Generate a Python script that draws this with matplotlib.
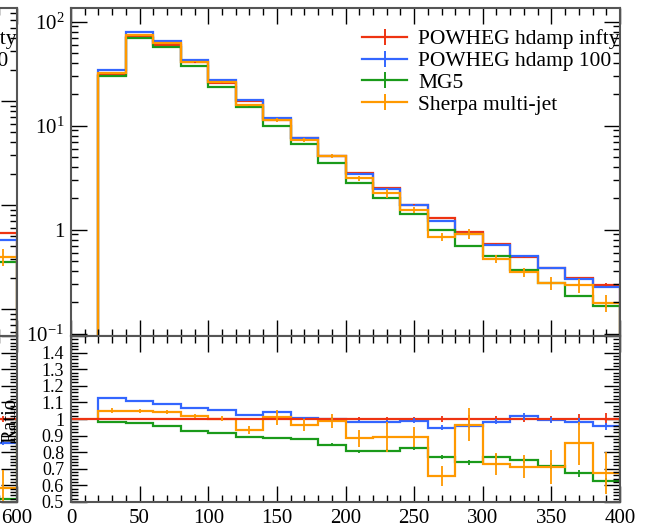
import numpy as np
import matplotlib
matplotlib.use("Agg")
import matplotlib.pyplot as plt
from matplotlib.ticker import MultipleLocator, LogLocator, FuncFormatter, NullFormatter
from matplotlib.lines import Line2D

plt.rcParams["font.family"] = ["Liberation Serif", "DejaVu Serif"]
plt.rcParams["mathtext.fontset"] = "custom"
plt.rcParams["mathtext.rm"] = "Liberation Serif"
plt.rcParams["mathtext.it"] = "Liberation Serif:italic"

labels = ["POWHEG hdamp infty", "POWHEG hdamp 100", "MG5", "Sherpa multi-jet"]
colours = ["#EE3311", "#3366FF", "#1A9A1A", "#FF9900"]

# jet pT bins (GeV)
bin_edges = [20, 40, 60, 80, 100, 120, 140, 160, 180, 200, 220,
             240, 260, 280, 300, 320, 340, 360, 380, 400]

# reference prediction (POWHEG hdamp infty)
ref_vals = [30.7, 72.0, 60.1, 40.6, 26.0, 17.1, 11.3, 7.55, 5.15, 3.52,
            2.50, 1.73, 1.29, 0.944, 0.724, 0.548, 0.431, 0.343, 0.294]
ref_err = [0.004, 0.004, 0.004, 0.005, 0.005, 0.006, 0.007, 0.008, 0.010, 0.012,
           0.014, 0.015, 0.016, 0.025, 0.018, 0.020, 0.020, 0.030, 0.035]

# ratios to the reference
hdamp100_ratio = [1.125, 1.111, 1.092, 1.066, 1.056, 1.024, 1.040, 1.006, 1.000, 0.984,
                  0.984, 0.990, 0.946, 0.960, 0.984, 1.016, 0.994, 0.984, 0.956]
hdamp100_err = [0.004, 0.004, 0.005, 0.005, 0.006, 0.006, 0.007, 0.008, 0.010, 0.011,
                0.012, 0.014, 0.015, 0.015, 0.016, 0.020, 0.018, 0.020, 0.020]
mg5_ratio = [0.980, 0.974, 0.956, 0.929, 0.913, 0.893, 0.885, 0.879, 0.845, 0.805,
             0.809, 0.823, 0.772, 0.738, 0.772, 0.752, 0.718, 0.672, 0.627]
mg5_err = [0.004, 0.004, 0.004, 0.005, 0.005, 0.006, 0.006, 0.007, 0.008, 0.010,
           0.010, 0.012, 0.014, 0.014, 0.016, 0.016, 0.018, 0.020, 0.020]
sherpa_ratio = [1.050, 1.046, 1.040, 1.020, 1.003, 0.933, 1.010, 0.966, 0.990, 0.883,
                0.893, 0.893, 0.657, 0.966, 0.728, 0.712, 0.712, 0.853, 0.674]
sherpa_err = [0.015, 0.012, 0.012, 0.012, 0.018, 0.023, 0.047, 0.037, 0.042, 0.050,
              0.090, 0.060, 0.060, 0.099, 0.068, 0.070, 0.103, 0.128, 0.126]

# neighbouring plot (jet pT up to 600), last bin only
side_edges = [570, 600]
side_ref = [0.541]
side_ref_err = [0.02]
side_ratios = [[0.855], [0.52], [0.585]]
side_errs = [[0.01], [0.01], [0.11]]

ratio_ticks = [0.5, 0.6, 0.7, 0.8, 0.9, 1.0, 1.1, 1.2, 1.3, 1.4, 1.5]

LW = 1.6
W, H = 650, 529


def box(x0, y_top, x1, y_bot):
    return [x0 / W, 1 - y_bot / H, (x1 - x0) / W, (y_bot - y_top) / H]


def style(ax):
    for s in ax.spines.values():
        s.set_color("#555555")
        s.set_linewidth(1.5)
    ax.tick_params(which="both", direction="in", top=True, right=True,
                   labelsize=15, pad=5)
    ax.tick_params(which="major", length=11.5, width=1.0)
    ax.tick_params(which="minor", length=5, width=1.0)


def log_label(v, pos):
    if abs(v - 1) < 1e-9:
        return "1"
    return r"$10^{%d}$" % int(round(np.log10(v)))


def ratio_label(v, pos):
    if v > 1.45:
        return ""
    if abs(v - 1) < 1e-9:
        return "1"
    return "%.1f" % v


def draw_pair(ax, rax, edges, ref, ref_e, ratios, errs, xmax, xmajor, xminor, ylim):
    edges = np.asarray(edges, dtype=float)
    ref = np.asarray(ref)
    centres = 0.5 * (edges[1:] + edges[:-1])

    ax.stairs(ref, edges, baseline=1e-4, color=colours[0], lw=LW)
    ax.errorbar(centres, ref, yerr=ref * np.asarray(ref_e), fmt="none",
                ecolor=colours[0], elinewidth=1.3)
    rax.axhline(1.0, color=colours[0], lw=LW)
    rax.errorbar(centres, np.ones_like(centres), yerr=ref_e, fmt="none",
                 ecolor=colours[0], elinewidth=1.3)

    for colour, ratio, err in zip(colours[1:], ratios, errs):
        ratio = np.asarray(ratio)
        err = np.asarray(err)
        vals = ref * ratio
        ax.stairs(vals, edges, baseline=1e-4, color=colour, lw=LW)
        ax.errorbar(centres, vals, yerr=ref * err, fmt="none",
                    ecolor=colour, elinewidth=1.3)
        rax.stairs(ratio, edges, baseline=1.0, color=colour, lw=LW)
        rax.errorbar(centres, ratio, yerr=err, fmt="none",
                     ecolor=colour, elinewidth=1.3)

    ax.set_yscale("log")
    ax.set_ylim(*ylim)
    ax.set_xlim(0, xmax)
    ax.yaxis.set_major_locator(LogLocator(base=10))
    ax.yaxis.set_minor_locator(LogLocator(base=10, subs=np.arange(2, 10)))
    ax.yaxis.set_major_formatter(FuncFormatter(log_label))
    ax.yaxis.set_minor_formatter(NullFormatter())
    ax.xaxis.set_major_locator(MultipleLocator(xmajor))
    ax.xaxis.set_minor_locator(MultipleLocator(xminor))
    ax.tick_params(labelbottom=False)
    style(ax)

    rax.set_xlim(0, xmax)
    rax.set_ylim(0.5, 1.5)
    rax.set_yticks(ratio_ticks)
    rax.yaxis.set_major_formatter(FuncFormatter(ratio_label))
    rax.yaxis.set_minor_locator(MultipleLocator(0.02))
    rax.xaxis.set_major_locator(MultipleLocator(xmajor))
    rax.xaxis.set_minor_locator(MultipleLocator(xminor))
    style(rax)
    rax.tick_params(axis="y", labelsize=13)

    handles = [(Line2D([], [], color=c, lw=LW),
                Line2D([], [], color=c, marker="|", ms=12, mew=1.4, ls="none"))
               for c in colours]
    ax.legend(handles, labels, loc="upper left", bbox_to_anchor=(0.53, 0.935),
              frameon=False, fontsize=15.5, handlelength=2.1, handletextpad=0.5,
              labelspacing=0.08, borderpad=0, borderaxespad=0, numpoints=1)


fig = plt.figure(figsize=(6.5, 5.29), dpi=100)

# neighbouring plot, mostly outside the canvas on the left
side_main = fig.add_axes(box(17 - 549, 8, 17, 336))
side_ratio = fig.add_axes(box(17 - 549, 336, 17, 502))
draw_pair(side_main, side_ratio, side_edges, side_ref, side_ref_err,
          side_ratios, side_errs, 600, 100, 20, (0.0549, 78.4))
side_main.tick_params(labelleft=False)
side_ratio.tick_params(labelleft=False)
side_ratio.set_xticks([600])

ax = fig.add_axes(box(71, 8, 620, 336))
rax = fig.add_axes(box(71, 336, 620, 502))
draw_pair(ax, rax, bin_edges, ref_vals, ref_err,
          [hdamp100_ratio, mg5_ratio, sherpa_ratio],
          [hdamp100_err, mg5_err, sherpa_err], 400, 50, 10, (0.095, 135.5))

# y title of the ratio panel, sitting over the neighbouring frame
fig.text(11 / W, 1 - 420 / H, "Ratio", rotation=90, ha="center", va="center",
         fontsize=15, zorder=10)

fig.savefig("out.png", dpi=100)
